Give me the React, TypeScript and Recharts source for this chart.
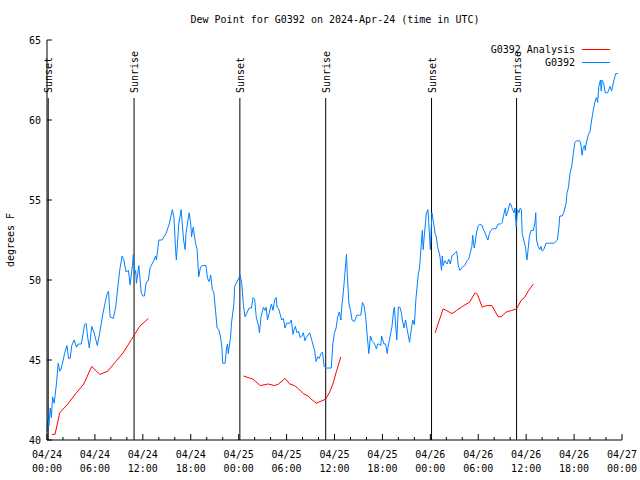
import React from "react";
import { LineChart, Line, XAxis, YAxis, ReferenceLine } from "recharts";

// hours since 2024-04-24 00:00 UTC
const hourTicks = [
  0, 2, 4, 6, 8, 10, 12, 14, 16, 18, 20, 22, 24, 26, 28, 30, 32, 34, 36, 38, 40, 42, 44, 46, 48, 50,
  52, 54, 56, 58, 60, 62, 64, 66, 68, 70, 72,
];
const majorTickLabels: [string, string][] = [
  ["04/24", "00:00"], ["04/24", "06:00"], ["04/24", "12:00"], ["04/24", "18:00"],
  ["04/25", "00:00"], ["04/25", "06:00"], ["04/25", "12:00"], ["04/25", "18:00"],
  ["04/26", "00:00"], ["04/26", "06:00"], ["04/26", "12:00"], ["04/26", "18:00"],
  ["04/27", "00:00"],
];
const yTicks = [40, 45, 50, 55, 60, 65];

const sunEvents: [number, string][] = [
  [0.15, "Sunset"], [10.9, "Sunrise"], [24.15, "Sunset"],
  [34.9, "Sunrise"], [48.15, "Sunset"], [58.8, "Sunrise"],
];

const analysisDay1: [number, number][] = [
  [0.6, 40.35], [1.0, 40.35], [1.6, 41.7], [2.6, 42.25], [3.6, 42.9], [4.6, 43.5], [5.6, 44.6],
  [6.6, 44.1], [7.6, 44.3], [8.6, 44.9], [9.6, 45.5], [10.6, 46.3], [11.6, 47.1], [12.7, 47.6],
];
const analysisDay2: [number, number][] = [
  [24.6, 44.0], [25.2, 43.9], [25.8, 43.8], [26.7, 43.4], [27.7, 43.5], [28.5, 43.4], [29.0, 43.5],
  [29.8, 43.85], [30.4, 43.5], [31.0, 43.4], [31.5, 43.2], [32.1, 42.9], [32.7, 42.75], [33.2, 42.5],
  [33.75, 42.3], [34.4, 42.45], [34.9, 42.55], [35.4, 43.0], [35.8, 43.5], [36.25, 44.3], [36.8, 45.2],
];
const analysisDay3: [number, number][] = [
  [48.6, 46.7], [49.2, 47.6], [49.6, 48.2], [50.0, 48.1], [50.7, 47.9], [51.3, 48.1], [51.9, 48.3],
  [52.5, 48.5], [52.9, 48.6], [53.6, 49.2], [53.9, 49.1], [54.5, 48.3], [55.0, 48.4], [55.7, 48.4],
  [56.5, 47.7], [56.9, 47.7], [57.5, 48.0], [58.2, 48.1], [58.8, 48.2], [59.4, 48.75], [59.8, 48.9],
  [60.25, 49.3], [60.9, 49.75],
];

const g0392: [number, number][] = [
  [0.0, 40.5], [0.1, 41.3], [0.25, 40.9], [0.4, 42.0], [0.55, 41.4], [0.7, 42.7], [0.9, 42.3],
  [1.2, 43.6], [1.4, 44.8], [1.6, 44.3], [1.8, 44.5], [2.2, 45.4], [2.5, 45.9], [2.7, 45.1],
  [2.9, 45.1], [3.1, 45.9], [3.4, 46.25], [3.7, 45.8], [3.9, 46.0], [4.3, 46.0], [4.7, 47.2],
  [4.9, 47.3], [5.1, 46.4], [5.3, 45.75], [5.6, 47.1], [5.9, 46.7], [6.3, 45.9], [6.6, 46.7],
  [7.0, 47.9], [7.5, 49.1], [7.7, 49.3], [7.9, 47.7], [8.3, 47.6], [8.6, 48.3], [9.1, 50.6],
  [9.4, 51.5], [9.6, 51.3], [9.9, 50.5], [10.2, 50.6], [10.4, 49.7], [10.7, 50.9], [10.8, 51.6],
  [11.0, 50.4], [11.1, 50.6], [11.2, 49.8], [11.5, 50.9], [11.8, 49.2], [12.0, 49.0], [12.2, 49.0],
  [12.4, 49.8], [12.7, 50.0], [12.9, 50.75], [13.4, 51.25], [13.6, 51.5], [13.7, 51.25], [14.0, 52.5],
  [14.4, 52.5], [14.9, 52.9], [15.3, 53.5], [15.7, 54.4], [15.9, 53.9], [16.1, 51.9], [16.2, 51.25],
  [16.5, 53.5], [16.8, 54.4], [17.1, 52.5], [17.3, 51.9], [17.4, 52.9], [17.8, 54.2], [18.0, 53.5],
  [18.1, 52.7], [18.3, 53.3], [18.6, 52.3], [18.8, 51.9], [19.0, 50.2], [19.2, 50.75], [19.4, 50.9],
  [19.9, 50.9], [20.1, 50.1], [20.3, 49.9], [20.5, 50.3], [20.7, 49.4], [20.9, 49.2], [21.1, 48.1],
  [21.3, 47.0], [21.5, 46.9], [21.7, 46.5], [21.9, 45.8], [22.0, 44.8], [22.3, 44.8], [22.5, 45.8],
  [22.6, 46.0], [22.7, 45.4], [23.0, 46.5], [23.1, 47.3], [23.4, 48.5], [23.5, 49.6], [23.9, 50.0],
  [24.2, 50.3], [24.4, 49.7], [24.6, 48.4], [24.8, 47.7], [25.0, 47.9], [25.3, 48.25], [25.6, 48.25],
  [25.8, 48.9], [26.0, 48.8], [26.2, 47.7], [26.5, 47.1], [26.6, 46.7], [26.8, 47.7], [27.1, 48.3],
  [27.3, 48.1], [27.45, 48.3], [27.6, 47.5], [27.8, 47.9], [28.1, 48.5], [28.3, 48.1], [28.5, 48.75],
  [28.7, 48.9], [28.8, 48.3], [29.0, 48.2], [29.4, 47.5], [29.6, 47.6], [29.8, 47.0], [30.0, 47.3],
  [30.4, 47.3], [30.6, 47.5], [30.8, 46.6], [30.95, 46.9], [31.1, 47.1], [31.3, 46.7], [31.5, 46.8],
  [31.7, 46.4], [31.9, 46.5], [32.1, 46.7], [32.3, 46.2], [32.45, 46.4], [32.6, 46.5], [32.9, 46.7],
  [33.5, 45.6], [33.7, 44.9], [33.9, 45.2], [34.1, 45.1], [34.3, 45.4], [34.5, 45.5], [34.7, 44.6],
  [35.0, 44.5], [35.6, 44.5], [35.8, 46.05], [36.0, 46.7], [36.2, 47.0], [36.4, 47.7], [36.6, 48.0],
  [36.8, 47.5], [36.9, 48.3], [37.1, 49.2], [37.3, 50.4], [37.5, 51.6], [37.6, 50.4], [37.8, 48.55],
  [38.0, 48.1], [38.2, 47.5], [38.5, 47.4], [38.8, 47.8], [39.1, 47.8], [39.3, 47.8], [39.5, 48.6],
  [39.7, 48.4], [39.9, 47.7], [40.1, 46.5], [40.3, 45.4], [40.5, 46.5], [40.7, 46.2], [40.9, 46.1],
  [41.1, 45.9], [41.25, 45.7], [41.4, 46.0], [41.6, 46.0], [41.8, 45.9], [41.9, 46.5], [42.2, 46.0],
  [42.4, 46.0], [42.6, 45.4], [42.7, 45.8], [43.2, 47.1], [43.4, 48.1], [43.5, 48.3], [43.7, 46.9],
  [43.8, 46.25], [44.0, 48.3], [44.2, 48.3], [44.4, 47.9], [44.5, 47.5], [44.7, 47.0], [44.9, 47.5],
  [45.1, 46.9], [45.4, 46.1], [45.5, 46.5], [45.7, 47.2], [45.8, 47.5], [46.0, 47.2], [46.2, 48.85],
  [46.5, 50.4], [46.6, 50.6], [46.7, 51.1], [46.9, 52.5], [47.0, 53.1], [47.1, 51.9], [47.2, 52.5],
  [47.5, 54.2], [47.7, 54.4], [47.8, 53.6], [48.0, 51.9], [48.2, 54.2], [48.4, 53.6], [48.6, 52.9],
  [48.75, 52.7], [48.9, 52.1], [49.2, 51.5], [49.4, 50.6], [49.5, 51.5], [49.6, 50.9], [49.8, 51.2],
  [50.1, 51.0], [50.3, 51.3], [50.5, 51.0], [50.7, 51.5], [51.1, 51.7], [51.3, 51.8], [51.5, 50.9],
  [51.7, 50.6], [52.0, 50.8], [52.3, 50.9], [52.6, 51.2], [52.8, 51.3], [53.2, 52.1], [53.3, 52.8],
  [53.5, 52.0], [53.6, 52.3], [53.8, 53.0], [54.0, 53.4], [54.2, 53.5], [54.5, 53.4], [54.6, 53.2],
  [54.8, 53.0], [55.2, 52.5], [55.4, 52.9], [55.6, 53.1], [55.8, 53.2], [56.2, 53.2], [56.5, 53.5],
  [56.8, 53.5], [57.0, 53.6], [57.2, 54.1], [57.4, 54.5], [57.5, 54.0], [57.7, 54.3], [57.96, 54.8],
  [58.1, 54.7], [58.3, 54.4], [58.5, 54.2], [58.6, 54.5], [58.75, 53.3], [58.9, 54.4], [59.1, 54.2],
  [59.25, 54.5], [59.4, 54.4], [59.5, 52.9], [59.7, 52.5], [59.9, 52.1], [60.1, 51.25], [60.2, 51.7],
  [60.4, 52.7], [60.6, 53.1], [60.9, 53.1], [61.1, 53.6], [61.2, 54.2], [61.3, 52.5], [61.5, 52.1],
  [61.7, 51.9], [61.85, 52.1], [62.0, 51.8], [62.2, 51.9], [62.5, 52.3], [62.9, 52.3], [63.5, 52.3],
  [63.9, 52.5], [64.1, 53.3], [64.2, 54.0], [64.5, 54.0], [64.7, 54.2], [65.0, 54.8], [65.1, 55.4],
  [65.3, 55.8], [65.5, 56.7], [65.7, 57.1], [65.9, 57.9], [66.1, 58.6], [66.3, 58.7], [66.7, 58.7],
  [66.85, 58.5], [67.0, 57.8], [67.15, 58.3], [67.3, 58.4], [67.4, 58.1], [67.5, 58.5], [67.8, 59.1],
  [68.0, 59.3], [68.2, 60.0], [68.4, 60.6], [68.6, 61.1], [68.8, 61.4], [68.95, 61.1], [69.1, 62.1],
  [69.3, 62.5], [69.4, 61.8], [69.5, 62.5], [69.7, 62.3], [69.9, 61.7], [70.2, 61.7], [70.35, 61.9],
  [70.5, 62.1], [70.7, 61.8], [70.9, 62.3], [71.2, 62.9], [71.4, 62.9], [71.5, 62.9],
];

const FONT = "'DejaVu Sans Mono', monospace";
const BLUE = "#0080ff";
const RED = "#ff0000";

const toRows = (pts: [number, number][]) => pts.map(([h, v]) => ({ h, v }));

const g0392Data = toRows(g0392);
const analysisData = [
  ...toRows(analysisDay1),
  { h: 13, v: null },
  ...toRows(analysisDay2),
  { h: 37, v: null },
  ...toRows(analysisDay3),
];

function BottomTick(props: any) {
  const { x, y, payload } = props;
  const h = payload.value as number;
  const major = h % 6 === 0;
  const lbl = major ? majorTickLabels[h / 6] : null;
  return (
    <g>
      <line x1={x} x2={x} y1={y} y2={y - (major ? 6 : 3)} stroke="#000" />
      {lbl && (
        <text x={x} y={y + 18} textAnchor="middle" fontFamily={FONT} fontSize={10} fill="#000">
          {lbl[0]}
        </text>
      )}
      {lbl && (
        <text x={x} y={y + 32} textAnchor="middle" fontFamily={FONT} fontSize={10} fill="#000">
          {lbl[1]}
        </text>
      )}
    </g>
  );
}

function TopTick(props: any) {
  const { x, y, payload } = props;
  const major = (payload.value as number) % 6 === 0;
  return <line x1={x} x2={x} y1={y} y2={y + (major ? 6 : 3)} stroke="#000" />;
}

function LeftTick(props: any) {
  const { x, y, payload } = props;
  return (
    <g>
      <line x1={x} x2={x + 5} y1={y} y2={y} stroke="#000" />
      <text x={x - 6} y={y} dy="0.35em" textAnchor="end" fontFamily={FONT} fontSize={10} fill="#000">
        {payload.value}
      </text>
    </g>
  );
}

function RightTick(props: any) {
  const { x, y } = props;
  return <line x1={x} x2={x - 5} y1={y} y2={y} stroke="#000" />;
}

function sunShape(name: string) {
  return (p: any) => {
    const top = Math.min(p.y1, p.y2);
    const bottom = Math.max(p.y1, p.y2);
    const x = p.x1;
    return (
      <g>
        <line x1={x} x2={x} y1={top + 58} y2={bottom} stroke="#000" strokeWidth={1} />
        <text
          x={x + 4}
          y={top + 53}
          transform={`rotate(-90 ${x + 4} ${top + 53})`}
          textAnchor="start"
          fontFamily={FONT}
          fontSize={10}
          fill="#000"
        >
          {name}
        </text>
      </g>
    );
  };
}

export default function App() {
  return (
    <div style={{ position: "absolute", left: 0, top: 0, width: 640, height: 480, background: "#fff" }}>
      <div
        style={{
          position: "absolute",
          top: 13,
          left: 0,
          width: 670,
          textAlign: "center",
          fontFamily: FONT,
          fontSize: 10,
          lineHeight: "14px",
        }}
      >
        Dew Point for G0392 on 2024-Apr-24 (time in UTC)
      </div>
      <LineChart width={640} height={480} margin={{ top: 40, right: 18, bottom: 0, left: 0 }}>
        <XAxis
          xAxisId="bottom"
          dataKey="h"
          type="number"
          domain={[0, 72]}
          ticks={hourTicks}
          interval={0}
          height={40}
          tickSize={0}
          tickMargin={0}
          tickLine={false}
          axisLine={{ stroke: "#000" }}
          tick={<BottomTick />}
        />
        <XAxis
          xAxisId="top"
          orientation="top"
          dataKey="h"
          type="number"
          domain={[0, 72]}
          ticks={hourTicks}
          interval={0}
          height={0}
          tickSize={0}
          tickMargin={0}
          tickLine={false}
          axisLine={{ stroke: "#000" }}
          tick={<TopTick />}
        />
        <YAxis
          yAxisId="left"
          type="number"
          domain={[40, 65]}
          ticks={yTicks}
          interval={0}
          width={47}
          tickSize={0}
          tickMargin={0}
          tickLine={false}
          axisLine={{ stroke: "#000" }}
          tick={<LeftTick />}
          label={(lp: any) => {
            const vb = lp.viewBox;
            const cx = vb.x + 14;
            const cy = vb.y + vb.height / 2;
            return (
              <text
                x={cx}
                y={cy}
                transform={`rotate(-90 ${cx} ${cy})`}
                textAnchor="middle"
                fontFamily={FONT}
                fontSize={10}
                fill="#000"
              >
                degrees F
              </text>
            );
          }}
        />
        <YAxis
          yAxisId="right"
          orientation="right"
          type="number"
          domain={[40, 65]}
          ticks={yTicks}
          interval={0}
          width={0}
          tickSize={0}
          tickMargin={0}
          tickLine={false}
          axisLine={{ stroke: "#000" }}
          tick={<RightTick />}
        />
        {sunEvents.map(([h, name]) => (
          <ReferenceLine
            key={h}
            x={h}
            xAxisId="bottom"
            yAxisId="left"
            stroke="#000"
            shape={sunShape(name)}
          />
        ))}
        <Line
          xAxisId="bottom"
          yAxisId="left"
          data={analysisData}
          dataKey="v"
          type="linear"
          stroke={RED}
          strokeWidth={1}
          dot={false}
          connectNulls={false}
          isAnimationActive={false}
        />
        <Line
          xAxisId="bottom"
          yAxisId="left"
          data={g0392Data}
          dataKey="v"
          type="linear"
          stroke={BLUE}
          strokeWidth={1}
          dot={false}
          isAnimationActive={false}
        />
      </LineChart>
      <div
        style={{
          position: "absolute",
          top: 43,
          left: 0,
          width: 610,
          fontFamily: FONT,
          fontSize: 10,
          lineHeight: "13px",
        }}
      >
        {[
          ["G0392 Analysis", RED],
          ["G0392", BLUE],
        ].map(([name, color]) => (
          <div key={name} style={{ display: "flex", justifyContent: "flex-end", alignItems: "center", height: 13 }}>
            <span>{name}</span>
            <span style={{ display: "inline-block", width: 28, height: 0, borderTop: `1px solid ${color}`, marginLeft: 7 }} />
          </div>
        ))}
      </div>
    </div>
  );
}
